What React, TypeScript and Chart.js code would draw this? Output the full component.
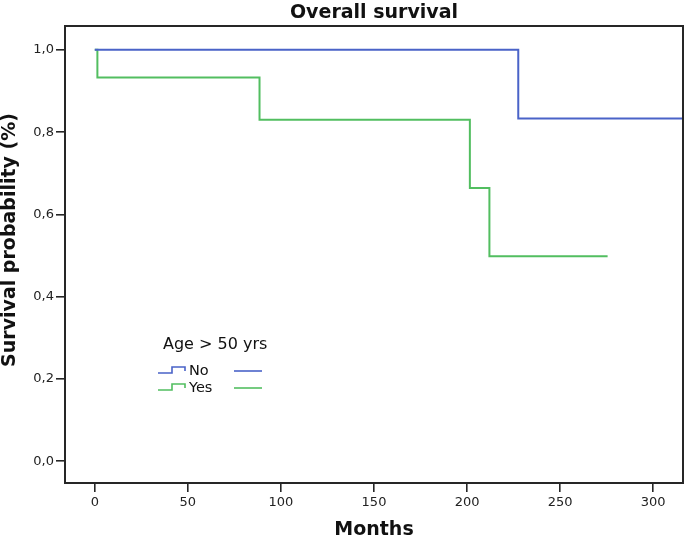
import React, { useEffect, useRef } from "react";
import { Chart, registerables } from "chart.js";

Chart.register(...registerables);

// ---- data ----
const noMonths = [0, 227.5, 320];
const noSurvival = [1.0, 0.833, 0.833];
const yesMonths = [0, 1.4, 88.5, 201.5, 212, 275.5];
const yesSurvival = [1.0, 0.933, 0.83, 0.664, 0.498, 0.498];
const xTickValues = [0, 50, 100, 150, 200, 250, 300];
const yTickValues = [0.0, 0.2, 0.4, 0.6, 0.8, 1.0];
const seriesLabels = ["No", "Yes"];
const seriesColors = ["#4a63c8", "#52be60"];
const legendTitle = "Age > 50 yrs";
const chartTitle = "Overall survival";
const xTitle = "Months";
const yTitle = "Survival probability (%)";

const FONT = "'DejaVu Sans', sans-serif";
const FRAME = "#262626";

const framePlugin = {
  id: "frame",
  afterDatasetsDraw(chart: any) {
    const { ctx, chartArea: a } = chart;
    ctx.save();
    ctx.strokeStyle = FRAME;
    ctx.lineWidth = 2;
    ctx.strokeRect(a.left, a.top, a.right - a.left, a.bottom - a.top);
    ctx.restore();
  },
};

const yTitlePlugin = {
  id: "yTitle",
  afterDraw(chart: any) {
    const { ctx, chartArea: a } = chart;
    ctx.save();
    ctx.fillStyle = "#111";
    ctx.font = `bold 19px ${FONT}`;
    ctx.textAlign = "center";
    ctx.textBaseline = "alphabetic";
    ctx.translate(a.left - 50, a.top + 214);
    ctx.rotate(-Math.PI / 2);
    ctx.fillText(yTitle, 0, 0);
    ctx.restore();
  },
};

const legendPlugin = {
  id: "kmLegend",
  afterDraw(chart: any) {
    const { ctx, chartArea: a } = chart;
    const x0 = a.left + 93;
    const y0 = a.top + 319;
    ctx.save();
    ctx.fillStyle = "#111";
    ctx.font = `16px ${FONT}`;
    ctx.textAlign = "left";
    ctx.textBaseline = "middle";
    ctx.fillText(legendTitle, x0 + 5, y0);
    chart.data.datasets.forEach((ds: any, i: number) => {
      const ry = y0 + 26 + i * 17;
      ctx.strokeStyle = ds.borderColor;
      ctx.lineWidth = 1.6;
      ctx.beginPath();
      ctx.moveTo(x0, ry + 2);
      ctx.lineTo(x0 + 14, ry + 2);
      ctx.lineTo(x0 + 14, ry - 4);
      ctx.lineTo(x0 + 27, ry - 4);
      ctx.lineTo(x0 + 27, ry);
      ctx.stroke();
      ctx.beginPath();
      ctx.moveTo(x0 + 76, ry);
      ctx.lineTo(x0 + 104, ry);
      ctx.stroke();
      ctx.fillStyle = "#111";
      ctx.font = `14.5px ${FONT}`;
      ctx.fillText(ds.label, x0 + 31, ry);
    });
    ctx.restore();
  },
};

const fmt = (v: number) => v.toFixed(1).replace(".", ",");

export default function App() {
  const ref = useRef<HTMLCanvasElement>(null);
  useEffect(() => {
    if (!ref.current) return;
    const chart = new Chart(ref.current, {
      type: "line",
      data: {
        datasets: [
          {
            label: seriesLabels[0],
            data: noMonths.map((m, i) => ({ x: m, y: noSurvival[i] })),
            borderColor: seriesColors[0],
            borderWidth: 2,
            pointRadius: 0,
            stepped: "before",
            fill: false,
            order: 0,
          },
          {
            label: seriesLabels[1],
            data: yesMonths.map((m, i) => ({ x: m, y: yesSurvival[i] })),
            borderColor: seriesColors[1],
            borderWidth: 2,
            pointRadius: 0,
            stepped: "before",
            fill: false,
            order: 1,
          },
        ],
      },
      options: {
        animation: false,
        responsive: false,
        devicePixelRatio: 1,
        layout: { padding: { top: 0, right: 2, bottom: 0, left: 0 } },
        plugins: {
          legend: { display: false },
          tooltip: { enabled: false },
          title: {
            display: true,
            text: chartTitle,
            fullSize: false,
            color: "#111",
            font: { family: FONT, size: 19, weight: "bold", lineHeight: 1.2 },
            padding: { top: 2, bottom: 1.2 },
          },
        },
        scales: {
          x: {
            type: "linear",
            min: -16,
            max: 316,
            afterFit: (s: any) => {
              s.height = 58;
            },
            afterBuildTicks: (s: any) => {
              s.ticks = xTickValues.map((v) => ({ value: v }));
            },
            border: { display: false },
            grid: {
              display: true,
              drawOnChartArea: false,
              drawTicks: true,
              tickLength: 9,
              color: FRAME,
              lineWidth: 1.6,
            },
            ticks: {
              color: "#222",
              font: { family: FONT, size: 13 },
              padding: 3,
              maxRotation: 0,
              callback: (v: any) => String(v),
            },
            title: {
              display: true,
              text: xTitle,
              color: "#111",
              font: { family: FONT, size: 19, weight: "bold" },
              padding: { top: 0, bottom: 0 },
            },
          },
          y: {
            type: "linear",
            min: -0.053,
            max: 1.058,
            afterFit: (s: any) => {
              s.width = 65;
            },
            afterBuildTicks: (s: any) => {
              s.ticks = yTickValues.map((v) => ({ value: v }));
            },
            border: { display: false },
            grid: {
              display: true,
              drawOnChartArea: false,
              drawTicks: true,
              tickLength: 9,
              color: FRAME,
              lineWidth: 1.6,
            },
            ticks: {
              color: "#222",
              font: { family: FONT, size: 13 },
              padding: 2,
              callback: (v: any) => fmt(Number(v)),
            },
          },
        },
      },
      plugins: [framePlugin, yTitlePlugin, legendPlugin],
    } as any);
    return () => chart.destroy();
  }, []);
  return (
    <div style={{ position: "absolute", left: 0, top: 0, width: 685, height: 541, background: "#fff" }}>
      <canvas ref={ref} width={685} height={541} style={{ display: "block" }} />
    </div>
  );
}
